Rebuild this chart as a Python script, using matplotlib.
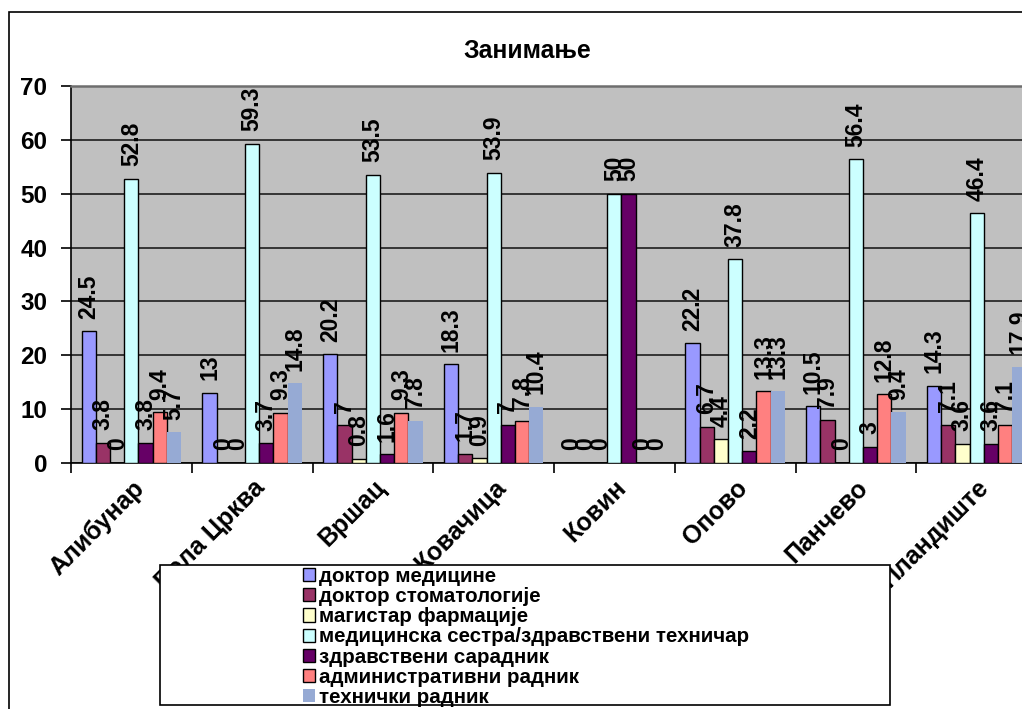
import matplotlib.pyplot as plt
from matplotlib.patches import Rectangle
import numpy as np

plt.rcParams['font.family'] = ['Liberation Sans', 'DejaVu Sans']
plt.rcParams['font.weight'] = 'bold'

title = 'Занимање'
places = ['Алибунар', 'Бела Црква', 'Вршац', 'Ковачица', 'Ковин', 'Опово', 'Панчево', 'Пландиште']
series = ['доктор медицине', 'доктор стоматологије', 'магистар фармације',
          'медицинска сестра/здравствени техничар', 'здравствени сарадник',
          'административни радник', 'технички радник']
doktor_med = [24.5, 13, 20.2, 18.3, 0, 22.2, 10.5, 14.3]
doktor_stom = [3.8, 0, 7, 1.7, 0, 6.7, 7.9, 7.1]
magistar = [0, 0, 0.8, 0.9, 0, 4.4, 0, 3.6]
sestra = [52.8, 59.3, 53.5, 53.9, 50, 37.8, 56.4, 46.4]
saradnik = [3.8, 3.7, 1.6, 7, 50, 2.2, 3, 3.6]
admin = [9.4, 9.3, 9.3, 7.8, 0, 13.3, 12.8, 7.1]
tehnicki = [5.7, 14.8, 7.8, 10.4, 0, 13.3, 9.4, 17.9]
values = [doktor_med, doktor_stom, magistar, sestra, saradnik, admin, tehnicki]
colors = ['#9999FF', '#993366', '#FFFFCC', '#CCFFFF', '#660066', '#FF8080', '#96AAD4']

W, H = 1022, 709
fig = plt.figure(figsize=(W / 100, H / 100), dpi=100)

# outer chart border (clipped at right / bottom like the screenshot)
fig.patches.append(Rectangle((9 / W, -0.1), 1.2, 1 - 12 / H + 0.1, transform=fig.transFigure,
                             fill=False, edgecolor='#000000', lw=1.2))

ax = fig.add_axes([71 / W, 1 - 463 / H, 966 / W, 377 / H])
ax.set_facecolor('#C0C0C0')

n = len(series)
bw = 1 / 8.5
x = np.arange(len(places))
for j in range(n):
    pos = x + (0.75 + j + 0.5) * bw
    if j == n - 1:
        ax.bar(pos, values[j], bw, color=colors[j], edgecolor='none', label=series[j], zorder=3)
    else:
        ax.bar(pos, values[j], bw, color=colors[j], edgecolor='black', lw=1, label=series[j], zorder=3)
    for p, v in zip(pos, values[j]):
        ax.annotate(f'{v:g}', xy=(p, v), xytext=(0, 9), textcoords='offset points',
                    rotation=90, ha='center', va='bottom', fontsize=16.5, fontweight='bold', zorder=4)

ax.set_xlim(0, len(places))
ax.set_ylim(0, 70)
ax.set_yticks(range(0, 71, 10))
ax.yaxis.grid(True, color='#2a2a2a', lw=1.3, zorder=1)
ax.set_axisbelow(True)
ax.tick_params(axis='y', direction='out', length=7, width=1.2, pad=10, labelsize=17.5)
ax.set_xticks(range(0, len(places) + 1))
ax.set_xticklabels([])
ax.tick_params(axis='x', which='major', direction='out', length=7, width=1.2)
ax.set_xticks(x + 0.5, minor=True)
ax.set_xticklabels(places, minor=True, rotation=45, ha='right', rotation_mode='anchor',
                   fontsize=18, fontweight='bold')
ax.tick_params(axis='x', which='minor', length=0, pad=9)
for s in ['left', 'bottom']:
    ax.spines[s].set_color('#000000')
    ax.spines[s].set_linewidth(1.2)
ax.spines['top'].set_color('#6e6e6e')
ax.spines['top'].set_linewidth(1.8)
ax.spines['right'].set_visible(False)

fig.text(527 / W, 1 - 51 / H, title, ha='center', va='center', fontsize=17.8, fontweight='bold')

# legend box
fig.patches.append(Rectangle((160 / W, 1 - 705 / H), 730 / W, 140 / H, transform=fig.transFigure,
                             facecolor='white', edgecolor='#000000', lw=1.2, zorder=5))
leg = fig.legend(loc='center', bbox_to_anchor=(526 / W, 1 - 637 / H), frameon=False,
                 fontsize=14.8, handlelength=0.6, handleheight=0.6, handletextpad=0.2,
                 labelspacing=0.06, borderpad=0)
leg.set_zorder(6)

fig.savefig('out.png', dpi=100)
